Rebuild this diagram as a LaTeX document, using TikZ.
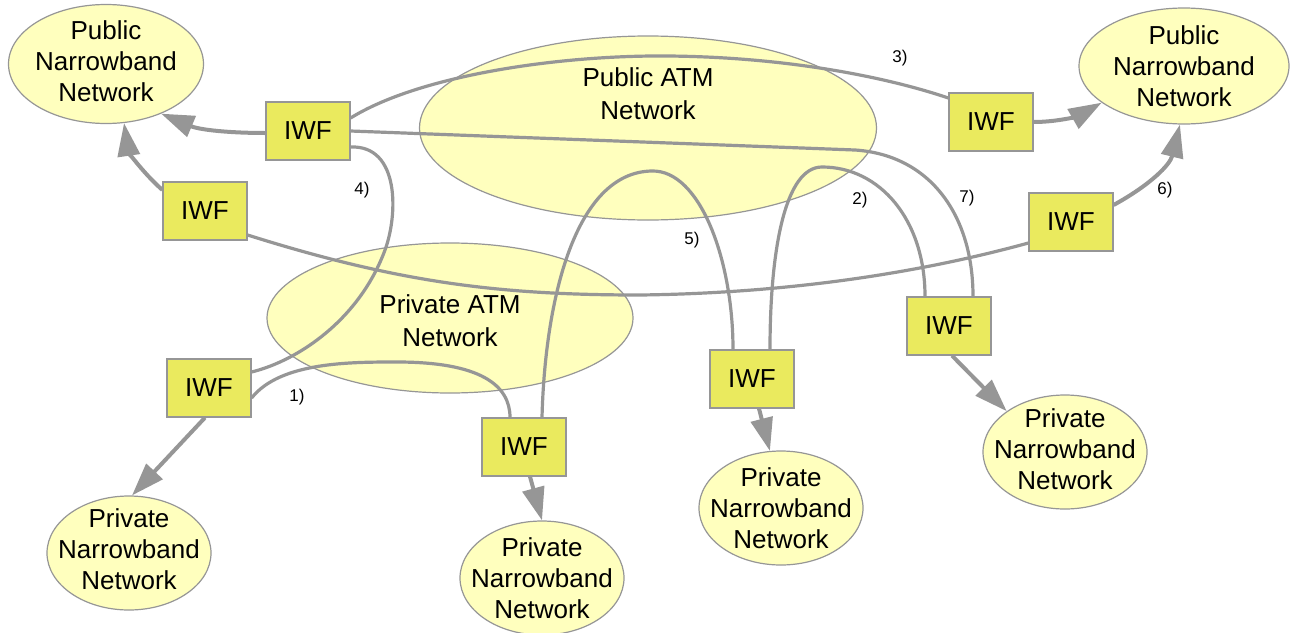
\documentclass[tikz,border=0pt]{standalone}
\usepackage{fontspec}
\setmainfont{Liberation Sans}
\usetikzlibrary{shapes.geometric,arrows.meta}
\definecolor{ellfill}{RGB}{255,255,190}
\definecolor{iwffill}{RGB}{234,234,94}
\definecolor{lgray}{RGB}{150,150,150}
\definecolor{bgray}{RGB}{150,150,150}
\pgfdeclarelayer{ell}
\pgfdeclarelayer{lnk}
\pgfsetlayers{ell,lnk,main}
\begin{document}
\begin{tikzpicture}[x=1pt,y=-1pt,
  net/.style={ellipse, draw=bgray, line width=1.2pt, fill=ellfill, inner sep=0pt},
  txt/.style={font=\fontsize{26}{31}\selectfont, align=center, inner sep=0pt},
  atxt/.style={font=\fontsize{26}{33}\selectfont, align=center, inner sep=0pt},
  iwf/.style={rectangle, draw=bgray, line width=1.2pt, fill=iwffill, minimum width=84pt, minimum height=58pt, inner sep=0pt, font=\fontsize{26}{31}\selectfont},
  link/.style={draw=lgray, line width=3.2pt},
  arr/.style={draw=lgray, line width=4pt, -{Triangle[length=33pt,width=22pt]}},
  num/.style={font=\fontsize{17}{20}\selectfont, inner sep=0pt}
]
\useasboundingbox (0,0) rectangle (1290,632);

\begin{pgfonlayer}{ell}
\node[net, minimum width=195pt, minimum height=119pt, label={[txt,yshift=3pt]center:{Public\\Narrowband\\Network}}] (pnl) at (106,64) {};
\node[net, minimum width=210pt, minimum height=116pt, label={[txt]center:{Public\\Narrowband\\Network}}] (pnr) at (1184,66) {};
\node[net, minimum width=457pt, minimum height=184pt, label={[atxt,yshift=34pt]center:{Public ATM\\Network}}] (patm) at (648,128) {};
\node[net, minimum width=366pt, minimum height=150pt, label={[atxt,yshift=-3pt]center:{Private ATM\\Network}}] (vatm) at (450,318) {};
\node[net, minimum width=164pt, minimum height=114pt, label={[txt,yshift=4pt]center:{Private\\Narrowband\\Network}}] (vbl) at (129,553) {};
\node[net, minimum width=164pt, minimum height=114pt, label={[txt]center:{Private\\Narrowband\\Network}}] (vb2) at (542,578) {};
\node[net, minimum width=164pt, minimum height=114pt, label={[txt]center:{Private\\Narrowband\\Network}}] (vb3) at (781,508) {};
\node[net, minimum width=164pt, minimum height=114pt, label={[txt,yshift=3pt]center:{Private\\Narrowband\\Network}}] (vr) at (1065,452) {};
\end{pgfonlayer}

\node[iwf] (iwfA) at (308,131) {IWF};
\node[iwf] (iwfB) at (205,211) {IWF};
\node[iwf] (iwfC) at (991,122) {IWF};
\node[iwf] (iwfD) at (1071,222) {IWF};
\node[iwf] (iwfE) at (949,326) {IWF};
\node[iwf] (iwfF) at (752,379) {IWF};
\node[iwf] (iwfG) at (524,447) {IWF};
\node[iwf] (iwfH) at (209,388) {IWF};

\begin{pgfonlayer}{lnk}
% 3)
\draw[link] ([yshift=13pt]iwfA.east) .. controls (420,75) and (560,55) .. (668,56)
  .. controls (780,57) and (880,75) .. ([yshift=24pt]iwfC.west);
% 7)
\draw[link] (iwfA.east) -- (855,150) .. controls (930,155) and (973,215) .. ([xshift=24pt]iwfE.north);
% 4)
\draw[link] ([yshift=-16pt]iwfA.east) .. controls (400,145) and (398,215) .. (385,250)
  .. controls (360,318) and (300,360) .. ([yshift=16pt]iwfH.east);
% 6)
\draw[link] ([yshift=-24pt]iwfB.east) .. controls (400,283) and (500,295) .. (640,295)
  .. controls (800,293) and (930,270) .. ([yshift=-21pt]iwfD.west);
% 1)
\draw[link] ([yshift=-10pt]iwfH.east) .. controls (280,362) and (350,362) .. (397,362)
  .. controls (480,362) and (510,385) .. ([xshift=-14pt]iwfG.north);
% 5)
\draw[link] ([xshift=18pt]iwfG.north) .. controls (545,300) and (575,172) .. (652,171)
  .. controls (700,170) and (733,260) .. ([xshift=-19pt]iwfF.north);
% 2)
\draw[link] ([xshift=18pt]iwfF.north) .. controls (770,250) and (785,167) .. (822,167)
  .. controls (880,167) and (925,220) .. ([xshift=-24pt]iwfE.north);
% arrows to public narrowband
\draw[arr] ([yshift=-2pt]iwfA.west) .. controls (230,133) and (200,130) .. (pnl.-42);
\draw[arr] ([yshift=21pt]iwfB.west) .. controls (140,170) and (128,150) .. (pnl.-73);
\draw[arr] (iwfC.east) .. controls (1060,122) and (1080,115) .. (pnr.-156);
\draw[arr] ([yshift=17pt]iwfD.east) .. controls (1150,185) and (1170,165) .. (pnr.-94);
% arrows to private narrowband
\draw[arr] ([xshift=-4pt]iwfH.south) -- (vbl.87);
\draw[arr] ([xshift=6pt]iwfG.south) -- (vb2.north);
\draw[arr] ([xshift=7pt]iwfF.south) -- (vb3.101);
\draw[arr] ([xshift=3pt]iwfE.south) -- (vr.145);
\end{pgfonlayer}

\node[num] (n1) at (297,397) {1)};
\node[num] (n2) at (860,200) {2)};
\node[num] (n3) at (900,58) {3)};
\node[num] (n4) at (362,190) {4)};
\node[num] (n5) at (692,240) {5)};
\node[num] (n6) at (1165,190) {6)};
\node[num] (n7) at (967,198) {7)};
\end{tikzpicture}
\end{document}
